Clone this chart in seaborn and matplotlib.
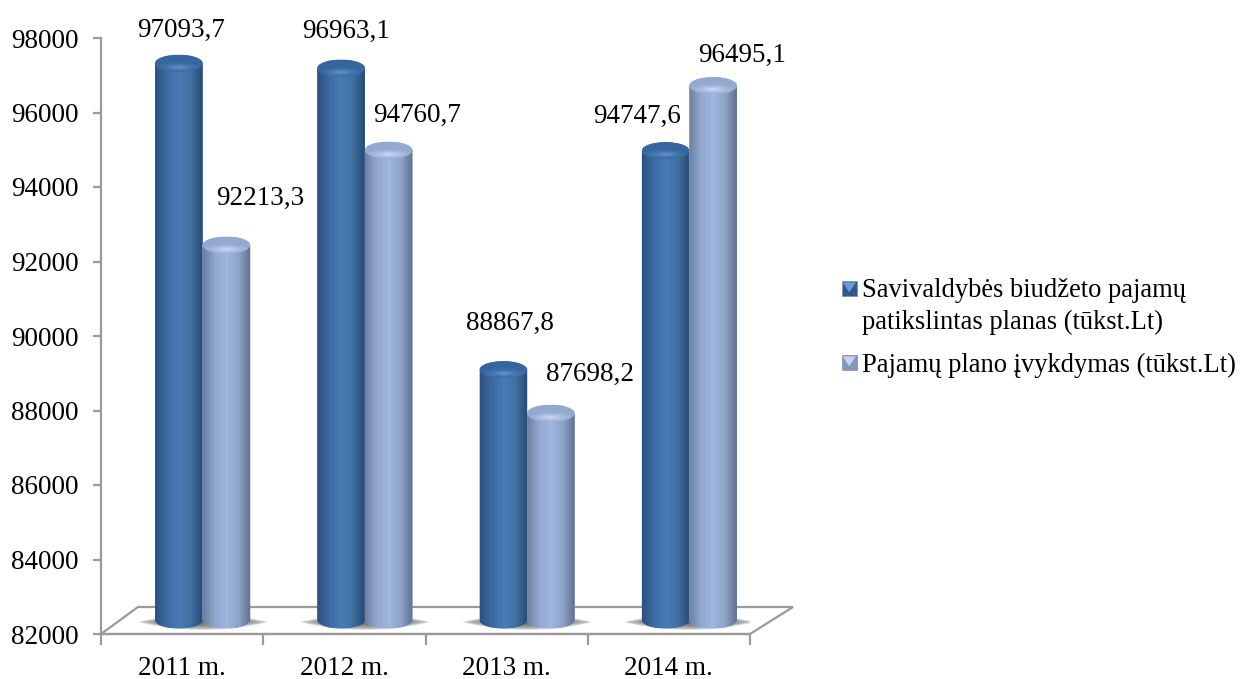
import numpy as np
import pandas as pd
import matplotlib
matplotlib.use('Agg')
import matplotlib.pyplot as plt
import seaborn as sns
from matplotlib.colors import LinearSegmentedColormap
from matplotlib.legend_handler import HandlerBase
from matplotlib.patches import Ellipse, PathPatch, Polygon, Rectangle
from matplotlib.path import Path
from matplotlib.transforms import Affine2D

# Duomenys
years = ['2011 m.', '2012 m.', '2013 m.', '2014 m.']
plan = [97093.7, 96963.1, 88867.8, 94747.6]
actual = [92213.3, 94760.7, 87698.2, 96495.1]
series_names = ['Savivaldybės biudžeto pajamų\npatikslintas planas (tūkst.Lt)',
                'Pajamų plano įvykdymas (tūkst.Lt)']
y_ticks = [82000, 84000, 86000, 88000, 90000, 92000, 94000, 96000, 98000]

# Užrašų postūmis nuo stulpelio viršaus, pikseliais
label_shift_plan = [(2, -33), (5, -37), (7, -46), (-29, -34)]
label_shift_actual = [(34, -47), (28, -35), (39, -39), (29, -30)]

W, H = 1240, 679
sns.set_theme(style='white')
plt.rcParams['font.family'] = ['Liberation Serif', 'DejaVu Sans']
GRAY = '#9a9a9a'
FS = 19.5
LEG_FS = 19.1

df = pd.DataFrame({'metai': years * 2,
                   'reiksme': plan + actual,
                   'serija': [series_names[0]] * 4 + [series_names[1]] * 4})

fig = plt.figure(figsize=(W / 100, H / 100), dpi=100)
ax = fig.add_axes([101 / W, 1 - 634 / H, 649 / W, 596 / H])
px = Affine2D().scale(1 / W, -1 / H).translate(0, 1) + fig.transFigure

sns.barplot(data=df, x='metai', y='reiksme', hue='serija', palette=['#3f6fa8', '#9bb1da'],
            saturation=1, width=0.586, gap=0, legend=False, ax=ax)
ax.set_xlim(-0.5, 3.5)
ax.set_ylim(82000, 98000)
ax.set_xlabel('')
ax.set_ylabel('')

# Grindys
ax.add_patch(Polygon([(101, 634), (138, 607), (793, 607), (750, 634)], closed=True, fc='white',
                     ec=GRAY, lw=1.6, transform=px, clip_on=False, zorder=0.5))

cmaps = [LinearSegmentedColormap.from_list('tamsi', ['#2b5080', '#3d6ba3', '#4a7bb6', '#41709f', '#254a76']),
         LinearSegmentedColormap.from_list('sviesi', ['#6d7f9f', '#92a8d0', '#a0b6df', '#8fa3c8', '#5f708f'])]
top_cmaps = [LinearSegmentedColormap.from_list('t1', ['#6295cd', '#4575ae', '#36669d']),
             LinearSegmentedColormap.from_list('t2', ['#cddaf1', '#a9bce1', '#94a9d0'])]

px_x = 162.25    # vienos kategorijos plotis
px_y = 596 / 16000
dx = 20.5 / px_x
top_dy = 8.5 / px_y
base = 82000 + 14 / px_y
ry = 8.5 / px_y

grad = np.linspace(0, 1, 128).reshape(1, -1)
yy, xx = np.mgrid[-1:1:60j, -1:1:60j]
radial = np.clip(np.hypot(xx, (yy - 0.45) * 1.6), 0, 1)

# šešėlio tekstūra: smailūs kraštai, tamsesnis vidurys
vv, uu = np.mgrid[-1:1:50j, -1:1:200j]
shadow = np.zeros(uu.shape + (4,))
shadow[..., :3] = 0.35
shadow[..., 3] = 0.95 * np.clip(1 - uu ** 2 - np.abs(vv), 0, 1) ** 0.5

for s, cont in enumerate(ax.containers):
    for bar, val in zip(cont.patches, df['reiksme'][s * 4:(s + 1) * 4]):
        x0 = bar.get_x() + dx
        w = bar.get_width()
        xc = x0 + w / 2
        top = val + top_dy
        bar.set_visible(False)

        if s == 0:
            ax.imshow(shadow, extent=(xc + w / 2 - 66 / px_x, xc + w / 2 + 66 / px_x,
                                      base - 10 / px_y, base + 6 / px_y),
                      aspect='auto', zorder=1, interpolation='bilinear')

        t = np.linspace(np.pi, 2 * np.pi, 40)
        outline = np.vstack([[x0, top], [x0, base],
                             np.c_[xc + w / 2 * np.cos(t), base + ry * np.sin(t)],
                             [x0 + w, top], [x0, top]])
        body = PathPatch(Path(outline), fc=cmaps[s](0.5), ec='none', zorder=2 + s, clip_on=False)
        ax.add_patch(body)
        im = ax.imshow(grad, cmap=cmaps[s], extent=(x0, x0 + w, base - ry, top), aspect='auto',
                       zorder=2 + s, clip_on=True)
        im.set_clip_path(body)

        cap = Ellipse((xc, top), w, 2 * ry, fc=top_cmaps[s](0.5), ec='none', zorder=2.5 + s, clip_on=False)
        ax.add_patch(cap)
        im = ax.imshow(radial, cmap=top_cmaps[s], extent=(x0, x0 + w, top - ry, top + ry), aspect='auto',
                       zorder=2.5 + s, clip_on=True)
        im.set_clip_path(cap)
ax.set_xlim(-0.5, 3.5)
ax.set_ylim(82000, 98000)

# Reikšmių užrašai
for s, (vals, shifts) in enumerate(zip([plan, actual], [label_shift_plan, label_shift_actual])):
    for i, (v, sh) in enumerate(zip(vals, shifts)):
        xc = i + dx + (s - 0.5) * 0.293
        ax.annotate(f'{v:.1f}'.replace('.', ','), (xc, v + top_dy), xytext=(sh[0] * 0.72, -sh[1] * 0.72),
                    textcoords='offset points', ha='center', va='center', fontsize=FS, color='black',
                    annotation_clip=False, zorder=6)

# Ašys
for side in ['top', 'right']:
    ax.spines[side].set_visible(False)
for side in ['left', 'bottom']:
    ax.spines[side].set_color(GRAY)
    ax.spines[side].set_linewidth(1.6)
    ax.spines[side].set_zorder(1.5)
ax.set_yticks(y_ticks)
ax.set_yticklabels([str(v) for v in y_ticks], fontsize=FS, color='black')
ax.set_xticks(range(4))
ax.set_xticklabels(years, fontsize=FS, color='black')
ax.set_xticks([-0.5, 0.5, 1.5, 2.5, 3.5], minor=True)
ax.tick_params(axis='y', left=True, length=6, width=1.6, color=GRAY, pad=10)
ax.tick_params(axis='x', which='major', bottom=False, pad=9.5)
ax.tick_params(axis='x', which='minor', bottom=True, length=8, width=1.6, color=GRAY)
ax.grid(False)


class GradientKey(HandlerBase):
    def create_artists(self, legend, orig, xd, yd, width, height, fontsize, trans):
        sq = 10.5
        x0, y0 = width - sq - xd, (height - sq) / 2 - yd + orig.get_y()
        box = Rectangle((x0, y0), sq, sq, fc=orig.get_facecolor(), ec='#7f8ea8', lw=0.5, transform=trans)
        tri = Polygon([(x0 + 0.5, y0 + sq - 0.8), (x0 + sq - 0.5, y0 + sq - 0.8), (x0 + sq / 2, y0 + 2.5)], closed=True,
                      fc=orig.get_edgecolor(), ec='none', transform=trans)
        return [box, tri]


# Legenda
handles = [Rectangle((0, 13), 1, 1, fc='#2f5a8f', ec='#6f9ad0'),
           Rectangle((0, 0), 1, 1, fc='#8496b8', ec='#c3d2ee')]
leg = ax.legend(handles, series_names, handler_map={Rectangle: GradientKey()}, loc='upper left',
                bbox_to_anchor=(830 / W, 1 - 278 / H), bbox_transform=fig.transFigure, frameon=False,
                borderpad=0, borderaxespad=0, handlelength=1.0, handletextpad=0.2,
                labelspacing=0.68, prop={'family': 'Liberation Serif', 'size': LEG_FS})
for txt in leg.get_texts():
    txt.set_linespacing(1.34)
    txt.set_color('black')

fig.savefig('out.png', dpi=100, facecolor='white')
